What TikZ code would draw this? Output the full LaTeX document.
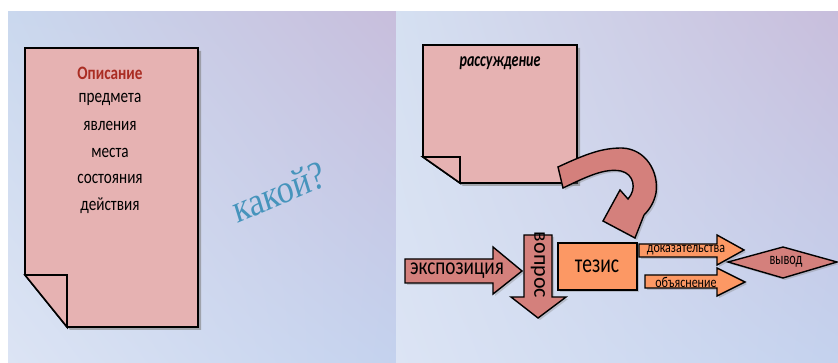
\documentclass[tikz,border=0pt]{standalone}
\usepackage{fontspec}
\setmainfont{Carlito}
\newfontfamily\kakfont{Liberation Serif}
\usepackage{xcolor}
\definecolor{docpink}{RGB}{230,178,178}
\definecolor{arrred}{RGB}{212,128,124}
\definecolor{thorange}{RGB}{252,152,100}
\definecolor{titlered}{RGB}{170,45,35}
\definecolor{kakblue}{RGB}{70,148,188}
\definecolor{bgUL}{RGB}{202,216,238}
\definecolor{bgUR}{RGB}{200,190,220}
\definecolor{bgLL}{RGB}{220,228,244}
\definecolor{bgLR}{RGB}{196,210,238}
\usetikzlibrary{shadows, shadings}

\begin{document}
\begin{tikzpicture}[
    % GLOBAL CFG
    x=1pt, y=-1pt,
    line join=miter,
    % Styles
    sheet/.style={% For the paper sheets
        fill=docpink,
        draw,
        line width=1.6pt,
        drop shadow={shadow xshift=3pt, shadow yshift=-3pt, opacity=.6},
        },
    fold/.style={% For the folded corner
        fill=docpink,
        draw,
        line width=1.6pt,
        },
    blockarrow/.style={% For the thick arrows
        fill=arrred,
        draw,
        line width=1.4pt,
        drop shadow={shadow xshift=2pt, shadow yshift=-2pt, opacity=.35},
        },
    orangebox/.style={% For the thesis and its arrows
        fill=thorange,
        draw,
        line width=1.4pt,
        drop shadow={shadow xshift=2pt, shadow yshift=-2pt, opacity=.35},
        },
    lbl/.style={% Squeezed text
        inner sep=0pt,
        xscale=.8,
        },
    ]

%Start drawing the thing...
    % Background panels
    \fill[white] (0,0) rectangle (838,363);
    \shade[upper left=bgUL, upper right=bgUR, lower left=bgLL, lower right=bgLR]
        (8,12) rectangle (396,363);
    \shade[upper left=bgUL!80!white, upper right=bgUR, lower left=bgLL, lower right=bgLR]
        (396,12) rectangle (838,363);

    % Left sheet
    \draw[sheet] (25,48) -- (198,48) -- (198,327) -- (67,327) -- (25,275) -- cycle;
    \draw[fold] (25,275) -- (67,275) -- (67,327) -- cycle;

    \node[lbl, font=\fontsize{19}{20}\selectfont\bfseries, text=titlered] (title) at (110,73) {Описание};
    \foreach \w [count=\i] in {предмета, явления, места, состояния, действия}
        \node[lbl, font=\fontsize{19}{20}\selectfont] (line\i) at (110,73+26.5*\i) {\w};

    % The question
    \node[inner sep=0pt, xscale=.85, rotate=20, font=\kakfont\fontsize{40}{42}\selectfont, text=kakblue] (kak) at (279,192) {какой?};

    % Right sheet
    \draw[sheet] (423,45) -- (577,45) -- (577,183) -- (460,183) -- (423,157) -- cycle;
    \draw[fold] (423,157) -- (460,157) -- (460,183) -- cycle;
    \node[lbl, xscale=.88, font=\fontsize{20}{22}\selectfont\bfseries\itshape] (rass) at (500,63) {рассуждение};

    % Curved arrow
    \draw[blockarrow] (558,167) .. controls (588,153) and (603,148) .. (622,148)
        .. controls (646,149) and (659,172) .. (656,193)
        .. controls (654,203) and (649,210) .. (644,215)
        -- (635,238) -- (603,221) -- (620,190) -- (628,199)
        .. controls (637,189) and (634,174) .. (621,171)
        .. controls (605,168) and (588,176) .. (563,188) -- cycle;

    % Bottom row
    \draw[blockarrow] (405,259) -- (493,259) -- (493,247) -- (522,271) -- (493,294)
        -- (493,283) -- (405,283) -- cycle;
    \node[lbl, font=\fontsize{24}{26}\selectfont] (expo) at (457,271) {экспозиция};

    \draw[blockarrow] (524,235) -- (552,235) -- (552,297) -- (566,297) -- (538,318)
        -- (511,297) -- (524,297) -- cycle;
    \node[inner sep=0pt, rotate=-90, font=\fontsize{22}{24}\selectfont] (vopr) at (538,265) {вопрос};

    \draw[orangebox] (558,243) rectangle (637,290);
    \node[lbl, xscale=.94, font=\fontsize{26}{28}\selectfont] (tezis) at (597,266) {тезис};

    \draw[orangebox] (639,244) -- (717,244) -- (717,235) -- (744,250) -- (717,265)
        -- (717,257) -- (639,257) -- cycle;
    \node[lbl, font=\fontsize{15}{16}\selectfont] (dok) at (686,250) {доказательства};

    \draw[orangebox] (645,275) -- (717,275) -- (717,268) -- (745,282) -- (717,296)
        -- (717,288) -- (645,288) -- cycle;
    \node[lbl, font=\fontsize{15}{16}\selectfont] (obj) at (686,282) {объяснение};

    \draw[blockarrow] (728,262) -- (783,247) -- (837,262) -- (783,278) -- cycle;
    \node[lbl, xscale=.9, font=\fontsize{17}{18}\selectfont] (vyvod) at (786,262) {вывод};

    \useasboundingbox (0,0) rectangle (838,363);
\end{tikzpicture}
\end{document}
